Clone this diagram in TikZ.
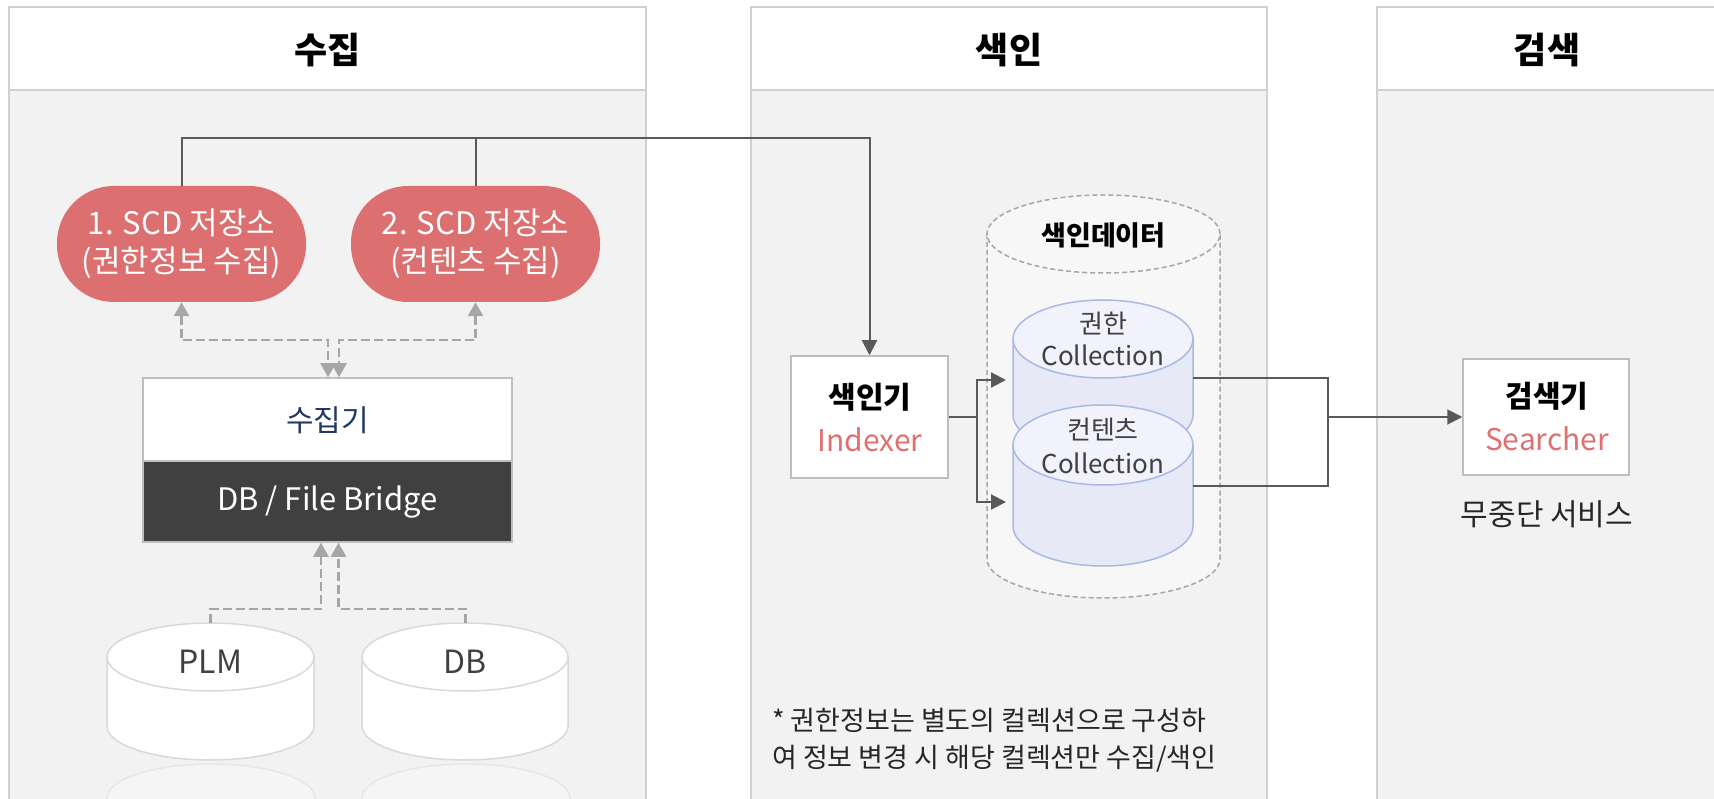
\documentclass[tikz,border=0pt]{standalone}
\usepackage{fontspec}
\setmainfont{Noto Sans CJK KR}
\usetikzlibrary{arrows.meta}
\definecolor{panelfill}{HTML}{F2F2F2}
\definecolor{panelline}{HTML}{D0D0D0}
\definecolor{pillred}{HTML}{DC6F6F}
\definecolor{darkbox}{HTML}{404040}
\definecolor{connc}{HTML}{595959}
\definecolor{dashc}{HTML}{A6A6A6}
\definecolor{redtxt}{HTML}{E07070}
\definecolor{navytxt}{HTML}{1F3864}
\definecolor{cylbody}{HTML}{E7E9F6}
\definecolor{cyltop}{HTML}{F1F2FB}
\definecolor{cylline}{HTML}{A8BAE3}
\definecolor{txtgray}{HTML}{404040}
\definecolor{boxline}{HTML}{BFBFBF}
\definecolor{dbline}{HTML}{D9D9D9}
\definecolor{outerfill}{HTML}{F7F7F7}
\definecolor{notetxt}{HTML}{262626}
\newcommand{\fsz}[2]{\fontsize{#1pt}{#2pt}\selectfont}
% #1 body fill, #2 top fill, #3 stroke style, #4 L, #5 R, #6 T, #7 B, #8 ry
\newcommand{\mycyl}[8]{%
  \pgfmathsetmacro\cylcx{(#4+#5)/2}%
  \pgfmathsetmacro\cylrx{(#5-#4)/2}%
  \pgfmathsetmacro\cylyt{-(#6+#8)}%
  \pgfmathsetmacro\cylyb{-(#7-#8)}%
  \path[fill=#1,#3] (#4,\cylyt) -- (#4,\cylyb) arc[start angle=180,end angle=360,x radius=\cylrx,y radius=#8] -- (#5,\cylyt);
  \path[fill=#2,#3] (\cylcx,\cylyt) ellipse[x radius=\cylrx,y radius=#8];
}
\tikzset{dtip/.tip={Triangle[length=14pt,width=15pt]}}
\begin{document}
\begin{tikzpicture}[x=1pt,y=1pt,
  panel/.style={fill=panelfill,draw=panelline,line width=1.5pt},
  header/.style={fill=white,draw=panelline,line width=1.5pt},
  htitle/.style={font=\fsz{36}{42}\bfseries,text=black},
  pill/.style={fill=pillred,draw=none,rounded corners=57pt,minimum width=249pt,minimum height=116pt,text=white,align=center,font=\fsz{31}{38},inner sep=0pt},
  box/.style={fill=white,draw=boxline,line width=1.5pt,inner sep=0pt},
  lbl/.style={inner sep=0pt,font=\fsz{30}{36}},
  clbl/.style={inner sep=0pt,font=\fsz{26}{30},text=txtgray},
  line/.style={draw=connc,line width=2pt},
  arr/.style={line,-{Triangle[length=15pt,width=15pt]}},
  dline/.style={draw=dashc,line width=2.5pt,dash pattern=on 9pt off 4pt},
]
\useasboundingbox (0,0) rectangle (1714,-799);
\clip (0,0) rectangle (1714,-799);
\fill[white] (0,0) rectangle (1714,-799);

% panels
\path[panel] (9,-7) rectangle (646,-830);
\path[header] (9,-7) rectangle (646,-90);
\path[panel] (751,-7) rectangle (1267,-830);
\path[header] (751,-7) rectangle (1267,-90);
\path[panel] (1377,-7) rectangle (1740,-830);
\path[header] (1377,-7) rectangle (1740,-90);
\node[htitle] (h1) at (327.5,-50) {수집};
\node[htitle] (h2) at (1009,-50) {색인};
\node[htitle] (h3) at (1547,-50) {검색};

% collection side
\node[pill] (pill1) at (181.5,-244) {1. SCD 저장소\\(권한정보 수집)};
\node[pill] (pill2) at (475.5,-244) {2. SCD 저장소\\(컨텐츠 수집)};
\node[box,minimum width=369pt,minimum height=83pt] (col) at (327.5,-419.5) {};
\node[lbl,text=navytxt] (coltxt) at (327.5,-420) {수집기};
\node[box,fill=darkbox,minimum width=369pt,minimum height=81pt] (bridge) at (327.5,-501.5) {};
\node[lbl,text=white,font=\fsz{31}{36}] (bridgetxt) at (327.5,-502) {DB / File Bridge};

% PLM / DB cylinders with faint reflections
\mycyl{white}{white}{draw=dbline,line width=1.5pt}{107}{314}{623}{760}{34}
\mycyl{white}{white}{draw=dbline,line width=1.5pt}{362}{568}{623}{760}{34}
\path[fill=white,fill opacity=0.3,draw=dbline,draw opacity=0.45,line width=1.5pt] (211,-798) ellipse[x radius=104,y radius=34];
\path[fill=white,fill opacity=0.3,draw=dbline,draw opacity=0.45,line width=1.5pt] (466,-798) ellipse[x radius=104,y radius=34];
\node[lbl,text=txtgray,font=\fsz{32}{36}] (plm) at (210.5,-662) {PLM};
\node[lbl,text=txtgray,font=\fsz{32}{36}] (db) at (465,-662) {DB};
\coordinate (plmtop) at (210.5,-623);
\coordinate (dbtop) at (465.5,-623);

% index side
\node[box,minimum width=157pt,minimum height=122pt] (idx) at (869.5,-417) {};
\node[lbl,font=\fsz{30}{36}\bfseries] (idxk) at (870,-397) {색인기};
\node[lbl,text=redtxt] (idxe) at (870,-440) {Indexer};

\mycyl{outerfill}{outerfill}{draw=dashc,line width=1.5pt,dash pattern=on 5pt off 3pt}{987}{1220}{195}{598}{39}
\node[inner sep=0pt,font=\fsz{27}{30}\bfseries] (idata) at (1103.5,-235) {색인데이터};
\mycyl{cylbody}{cyltop}{draw=cylline,line width=1.5pt}{1013}{1193}{300}{454}{39}
\mycyl{cylbody}{cyltop}{draw=cylline,line width=1.5pt}{1013}{1193}{405}{566}{40}
\node[clbl] (c1a) at (1103,-324) {권한};
\node[clbl] (c1b) at (1103,-355) {Collection};
\node[clbl] (c2a) at (1103,-430) {컨텐츠};
\node[clbl] (c2b) at (1103,-463) {Collection};
\coordinate (c1in) at (1006,-380);
\coordinate (c2in) at (1006,-502);
\coordinate (c1out) at (1193,-378);
\coordinate (c2out) at (1193,-486);
\coordinate (sp) at (977,-417);
\coordinate (mrg) at (1328,-417);

% search side
\node[box,minimum width=166pt,minimum height=116pt] (srch) at (1546,-417) {};
\node[lbl,font=\fsz{30}{36}\bfseries] (srchk) at (1547,-396) {검색기};
\node[lbl,text=redtxt] (srche) at (1547,-439) {Searcher};
\node[lbl,text=notetxt] (nonstop) at (1547,-514) {무중단 서비스};

% note
\node[inner sep=0pt,anchor=west,font=\fsz{27}{30},text=notetxt] (note1) at (772,-720) {* 권한정보는 별도의 컬렉션으로 구성하};
\node[inner sep=0pt,anchor=west,font=\fsz{27}{30},text=notetxt] (note2) at (772,-759) {여 정보 변경 시 해당 컬렉션만 수집/색인};

% solid connectors
\coordinate (j2) at (pill2.north |- 0,-138);
\draw[line] (pill2.north) -- (j2);
\draw[arr] (pill1.north) |- (idx.north |- 0,-138) -- (idx.north);
\draw[line] (idx.east) -- (sp);
\draw[arr] (sp) |- (c1in);
\draw[arr] (sp) |- (c2in);
\draw[line] (c1out) -| (mrg);
\draw[line] (c2out) -| (mrg);
\draw[arr] (mrg) -- (srch.west);

% dashed connectors
\draw[dline,dtip-dtip] (pill1.south) -- ++(0,-38) -| ([xshift=0.5pt]col.north);
\draw[dline,dtip-dtip] (pill2.south) -- ++(0,-38) -| ([xshift=11.5pt]col.north);
\draw[dline,-dtip] (plmtop) -- ++(0,14) -| ([xshift=-6.5pt]bridge.south);
\draw[dline,-dtip] (dbtop) -- ++(0,14) -| ([xshift=11pt]bridge.south);
\end{tikzpicture}
\end{document}
